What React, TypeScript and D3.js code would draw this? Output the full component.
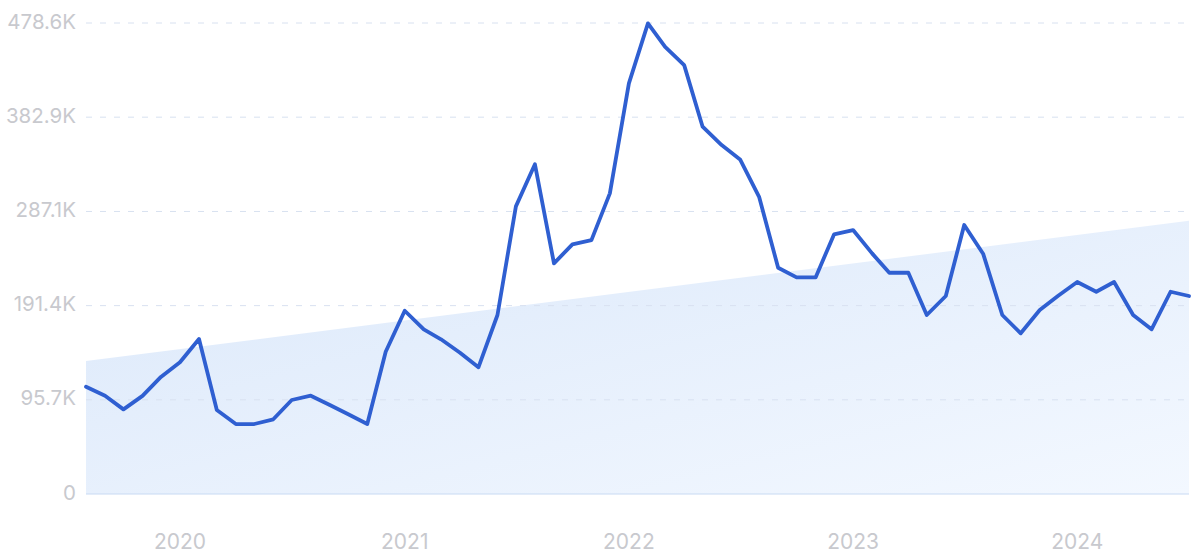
import { useEffect } from 'react';
import * as d3 from 'd3';

// monthly values, Aug 2019 .. Jul 2024
const startMonth = new Date(2019, 7, 1);
const values = [
  109, 99.9, 86, 99.7, 119, 133.8, 157.5, 85.3, 71.1, 71.1,
  75.9, 95.5, 99.9, 90.4, 81, 71.1, 144.6, 186.2, 167.3, 157.2,
  143.6, 128.7, 181.9, 292.3, 335, 234.4, 253.6, 258, 305.5, 417.2,
  478.2, 454.4, 435.8, 373.2, 354.6, 340, 302, 229.9, 220.1, 220.1,
  263.8, 268.2, 244.5, 224.8, 224.8, 181.9, 201.2, 273.3, 243.8, 181.9,
  163.3, 186.9, 201.5, 215.4, 205.5, 215.4, 181.9, 167.3, 205.5, 201.2,
].map(v => v * 1000);

// trend line start / end
const trend = [135.1, 277.7].map(v => v * 1000);

const yTicks = [0, 95700, 191400, 287100, 382900, 478600];
const yTickLabels = ['0', '95.7K', '191.4K', '287.1K', '382.9K', '478.6K'];
const xTickYears = [2020, 2021, 2022, 2023, 2024];

const W = 1200;
const H = 556;

export default function App() {
  useEffect(() => {
    document.body.style.margin = '0';
  }, []);

  const dates = values.map((_, i) => d3.timeMonth.offset(startMonth, i));
  const x = d3.scaleTime().domain([dates[0], dates[dates.length - 1]]).range([86, 1189]);
  const y = d3.scaleLinear().domain([0, 478600]).range([494, 23]);

  const line = d3.line<number>()
    .x((_, i) => x(dates[i]))
    .y(d => y(d));

  const trendDates = [dates[0], dates[dates.length - 1]];
  const area = d3.area<number>()
    .x((_, i) => x(trendDates[i]))
    .y0(y(0))
    .y1(d => y(d));

  const font = 'Inter, "Noto Sans", sans-serif';

  return (
    <svg width={W} height={H} style={{ display: 'block' }}>
      <defs>
        <linearGradient id="trendFill" x1="0" y1="0" x2="1" y2="1">
          <stop offset="0%" stopColor="#dbe8fa" />
          <stop offset="100%" stopColor="#f3f8ff" />
        </linearGradient>
      </defs>
      <rect width={W} height={H} fill="#fff" />

      <path d={area(trend) ?? ''} fill="url(#trendFill)" />

      {/* grid */}
      {yTicks.slice(1).map(t => (
        <line key={t} x1={86} x2={1189} y1={y(t)} y2={y(t)}
          stroke="#d8e1f0" strokeWidth={1} strokeDasharray="6,8" />
      ))}
      <line x1={86} x2={1189} y1={y(0)} y2={y(0)} stroke="#c8daf3" strokeWidth={1} />

      {yTicks.map((t, i) => (
        <text key={t} x={76} y={y(t)} textAnchor="end" dominantBaseline="middle"
          fill="#c8c9ce" fontSize={20.5} fontFamily={font}>{yTickLabels[i]}</text>
      ))}

      {xTickYears.map(yr => (
        <text key={yr} x={x(new Date(yr, 0, 1))} y={549} textAnchor="middle"
          fill="#c8c9ce" fontSize={21} fontFamily={font}>{yr}</text>
      ))}

      <path d={line(values) ?? ''} fill="none" stroke="#2f5fd1" strokeWidth={3.8}
        strokeLinejoin="round" strokeLinecap="round" />
    </svg>
  );
}
